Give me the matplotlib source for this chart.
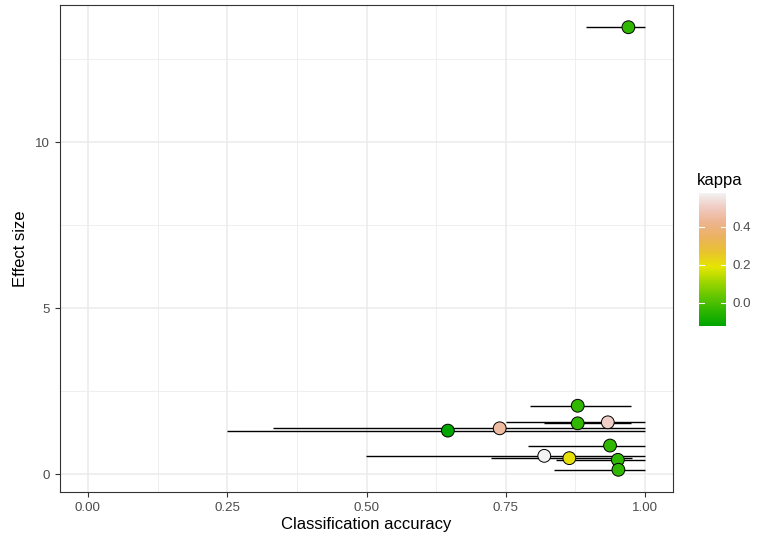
import matplotlib
matplotlib.use("Agg")
import matplotlib.pyplot as plt
import numpy as np
from matplotlib.colors import LinearSegmentedColormap, Normalize
from matplotlib.cm import ScalarMappable

plt.rcParams.update({"font.family": ["Liberation Sans", "DejaVu Sans"]})

# classification accuracy, CI bounds, effect size, kappa
accuracy = [0.970, 0.879, 0.879, 0.933, 0.646, 0.739, 0.937, 0.819, 0.864, 0.951, 0.952]
acc_lo = [0.894, 0.794, 0.819, 0.750, 0.250, 0.333, 0.789, 0.499, 0.724, 0.840, 0.837]
acc_hi = [1.000, 0.974, 0.974, 1.000, 1.000, 1.000, 1.000, 1.000, 0.977, 1.000, 1.000]
effect = [13.47, 2.06, 1.53, 1.56, 1.31, 1.38, 0.86, 0.55, 0.48, 0.43, 0.13]
kappa = [-0.04, -0.04, -0.04, 0.51, -0.124, 0.45, -0.04, 0.578, 0.20, -0.04, -0.04]

# R terrain.colors(10)
terrain = ["#00A600", "#2DB600", "#63C600", "#A0D600", "#E6E600",
           "#E8C32E", "#EBB25E", "#EDB48E", "#F0C9C0", "#F2F2F2"]
cmap = LinearSegmentedColormap.from_list("terrain", terrain)
norm = Normalize(vmin=min(kappa), vmax=max(kappa))

fig = plt.figure(figsize=(7.58, 5.42), dpi=100)
ax = fig.add_axes([60 / 758, 1 - 492 / 542, 613 / 758, 487 / 542])

ax.hlines(effect, acc_lo, acc_hi, color="black", lw=1.0, zorder=3)
ax.scatter(accuracy, effect, c=kappa, cmap=cmap, norm=norm, s=85,
           edgecolors="black", linewidths=0.7, zorder=4)

ax.set_xlim(-0.05, 1.05)
ax.set_ylim(-0.54, 14.14)
ax.set_xticks([0, 0.25, 0.5, 0.75, 1.0])
ax.set_xticklabels(["0.00", "0.25", "0.50", "0.75", "1.00"])
ax.set_yticks([0, 5, 10])
ax.set_xticks([0.125, 0.375, 0.625, 0.875], minor=True)
ax.set_yticks([2.5, 7.5, 12.5], minor=True)
ax.grid(which="major", color="#EBEBEB", lw=1.1, zorder=0)
ax.grid(which="minor", color="#EBEBEB", lw=0.55, zorder=0)
ax.set_axisbelow(True)
ax.tick_params(which="major", labelsize=9.6, labelcolor="#4D4D4D", color="#333333",
               length=3.5, width=0.8)
ax.tick_params(which="minor", length=0)
for s in ax.spines.values():
    s.set_color("#333333")
    s.set_linewidth(0.8)
ax.set_xlabel("Classification accuracy", fontsize=12, labelpad=2)
ax.set_ylabel("Effect size", fontsize=12, labelpad=5)

# colour bar in ggplot style
cax = fig.add_axes([699 / 758, 1 - 326 / 542, 27 / 758, 133 / 542])
cb = fig.colorbar(ScalarMappable(norm=norm, cmap=cmap), cax=cax)
cb.outline.set_visible(False)
cb.set_ticks([0.0, 0.2, 0.4])
cb.set_ticklabels(["0.0", "0.2", "0.4"])
cax.tick_params(labelsize=9.6, labelcolor="#4D4D4D", length=0, pad=5)
for t in [0.0, 0.2, 0.4]:
    cax.plot([0, 0.2], [t, t], color="white", lw=0.8, transform=cax.get_yaxis_transform())
    cax.plot([0.8, 1.0], [t, t], color="white", lw=0.8, transform=cax.get_yaxis_transform())
fig.text(697 / 758, 1 - 181 / 542, "kappa", fontsize=12, ha="left", va="center")

fig.savefig("out.png", dpi=100)
